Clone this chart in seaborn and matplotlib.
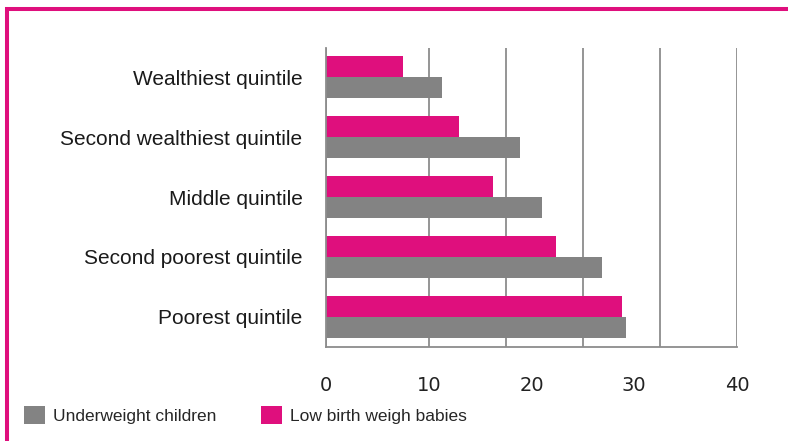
import matplotlib
matplotlib.use("Agg")
import matplotlib.pyplot as plt
from matplotlib.lines import Line2D
from matplotlib.patches import Patch
import seaborn as sns
import pandas as pd

# Quintiles, listed top to bottom
quintiles = ["Wealthiest quintile", "Second wealthiest quintile", "Middle quintile",
             "Second poorest quintile", "Poorest quintile"]
underweight = [11.3, 18.9, 21.0, 26.9, 29.2]
low_birth = [7.5, 12.9, 16.3, 22.4, 28.8]

series_names = ["Underweight children", "Low birth weigh babies"]
x_ticks = [0, 10, 20, 30, 40]
grid_pos = [0, 10, 17.5, 25, 32.5, 40]

PINK = "#DF0F7D"
GREY = "#838383"
AXIS = "#8C8C8C"

df = pd.DataFrame({
    "quintile": quintiles * 2,
    "value": underweight + low_birth,
    "series": [series_names[0]] * len(quintiles) + [series_names[1]] * len(quintiles),
})

sns.set_theme(style="white")
plt.rcParams["font.family"] = ["Liberation Sans", "DejaVu Sans"]

fig = plt.figure(figsize=(7.88, 4.41), dpi=100)
ax = fig.add_axes([326 / 788, 1 - 346.7 / 441, (737 - 326) / 788, (346.7 - 47.5) / 441])

sns.barplot(data=df, y="quintile", x="value", hue="series", order=quintiles,
            hue_order=[series_names[1], series_names[0]],
            palette={series_names[0]: GREY, series_names[1]: PINK},
            orient="h", width=0.7, saturation=1, errorbar=None, ax=ax, legend=False,
            linewidth=0)

ax.set_xlim(0, 40)
ax.set_ylim(len(quintiles) - 0.5, -0.5)
ax.set_xlabel("")
ax.set_ylabel("")

# x labels on even spacing, gridlines and tick marks on their own positions
ax.xaxis.remove_overlapping_locs = False
ax.set_xticks(x_ticks)
ax.set_xticklabels([str(t) for t in x_ticks], family="DejaVu Sans", fontsize=14, color="#222222")
ax.tick_params(axis="x", which="major", length=0, pad=21)
ax.set_xticks(grid_pos, minor=True)
ax.tick_params(axis="x", which="minor", length=6, width=1.3, color=AXIS, direction="out")
ax.xaxis.grid(True, which="minor", color=AXIS, linewidth=1.3)
ax.xaxis.grid(False, which="major")
ax.set_axisbelow(True)

# category labels with boundary tick marks
ax.tick_params(axis="y", which="major", length=0, pad=17, labelsize=15, labelcolor="#1a1a1a")
ax.set_yticks([i - 0.5 for i in range(len(quintiles) + 1)], minor=True)
ax.tick_params(axis="y", which="minor", length=6, width=1.3, color=AXIS, direction="out")

for side in ["top", "right"]:
    ax.spines[side].set_visible(False)
for side in ["left", "bottom"]:
    ax.spines[side].set_color(AXIS)
    ax.spines[side].set_linewidth(1.3)

# legend
handles = [Patch(facecolor=GREY, edgecolor="none"), Patch(facecolor=PINK, edgecolor="none")]
fig.legend(handles, series_names, loc="center left", bbox_to_anchor=(24 / 788, 1 - 415 / 441),
           ncol=2, frameon=False, fontsize=12.5, handlelength=1.2, handleheight=1.25,
           handletextpad=0.45, columnspacing=2.6, borderpad=0, borderaxespad=0)

# page frame: top and left rules
fig.add_artist(Line2D([5 / 788, 1.0], [1 - 8.7 / 441, 1 - 8.7 / 441], transform=fig.transFigure,
                      color=PINK, linewidth=2.9, solid_capstyle="butt"))
fig.add_artist(Line2D([6.7 / 788, 6.7 / 788], [1 - 6.7 / 441, 0.0], transform=fig.transFigure,
                      color=PINK, linewidth=2.9, solid_capstyle="butt"))

fig.savefig("out.png", dpi=100, facecolor="white")
